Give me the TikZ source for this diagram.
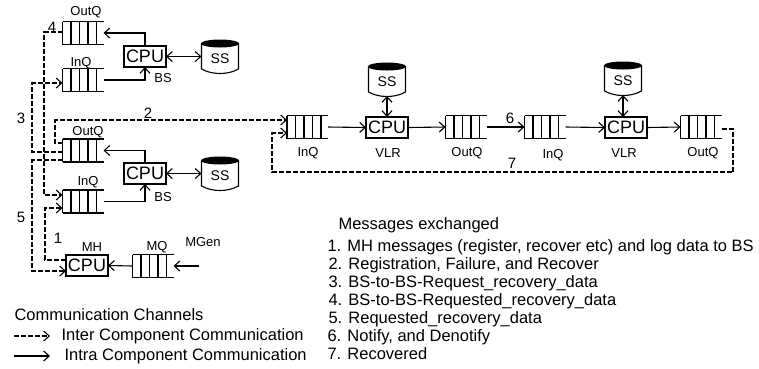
\documentclass[tikz,border=0pt]{standalone}
\usepackage{fontspec}
\setmainfont{Liberation Sans}
\usetikzlibrary{arrows.meta,calc}
\newcommand\fsz[1]{\fontsize{#1}{#1}\selectfont}
\newcommand\drawqueue[1]{%
  \draw (#1.north west) -- (#1.north east) (#1.south west) -- (#1.south east);
  \foreach \k in {0,1,2,3,4} {\draw ([xshift=\k*8.5pt]#1.north west) -- ([xshift=\k*8.5pt]#1.south west);}
}
\newcommand\drawss[1]{%
  \draw ([shift={(-18.5pt,15.5pt)}]#1.center) -- ([shift={(-18.5pt,-10pt)}]#1.center)
     .. controls ([shift={(-8pt,-16pt)}]#1.center) and ([shift={(8pt,-16pt)}]#1.center) ..
     ([shift={(18.5pt,-10pt)}]#1.center) -- ([shift={(18.5pt,15.5pt)}]#1.center);
  \fill ([shift={(0pt,15.5pt)}]#1.center) ellipse [x radius=19pt, y radius=4pt];
}
\begin{document}
\begin{tikzpicture}[x=1pt,y=-1pt,line width=1.1pt,
  >={Straight Barb[length=5.5pt,width=10pt,line width=1.1pt]},
  inter/.style={dash pattern=on 5pt off 2pt,->},
  intra/.style={->},
  qnode/.style={minimum width=41pt,minimum height=23pt,inner sep=0pt,outer sep=0pt},
  cpu/.style={draw,minimum width=42pt,minimum height=21pt,inner sep=0pt,outer sep=0pt,font=\fsz{18}},
  ssnode/.style={minimum width=37pt,minimum height=28pt,inner sep=0pt,outer sep=0pt,font=\fsz{14}},
  lbl/.style={font=\fsz{13},inner sep=0pt},
  num/.style={font=\fsz{15},inner sep=0pt},
  txt/.style={font=\fsz{16.5},inner sep=0pt,anchor=base west},
]
\useasboundingbox (0,0) rectangle (759,368);

% ---- BS 1 (top)
\node[qnode] (out1) at (83,33) {};
\drawqueue{out1}
\node[lbl] (lout1) at (86,12) {OutQ};
\node[qnode] (in1) at (83,80) {};
\drawqueue{in1}
\node[lbl] (lin1) at (81,63) {InQ};
\node[cpu] (cpu1) at (145,56.5) {CPU};
\node[ssnode] (ss1) at (220,59) {SS};
\drawss{ss1}
\node[lbl] (lbs1) at (163,78) {BS};
\draw[intra] (cpu1.north) |- (out1.east);
\draw[intra] (in1.east) -| (cpu1.south);
\draw[<->] (cpu1.east) -- (cpu1.east -| ss1.west);

% ---- BS 2 (middle)
\node[qnode] (out2) at (83,150.5) {};
\drawqueue{out2}
\node[lbl] (lout2) at (88,132) {OutQ};
\node[cpu] (cpu2) at (145,173.5) {CPU};
\node[ssnode] (ss2) at (220,176) {SS};
\drawss{ss2}
\node[lbl] (lbs2) at (163,197) {BS};
\node[qnode] (in2) at (83,201.5) {};
\drawqueue{in2}
\node[lbl] (lin2) at (88,182) {InQ};
\draw[intra] (cpu2.north) |- (out2.east);
\draw[intra] (in2.east) -| (cpu2.south);
\draw[<->] (cpu2.east) -- (cpu2.east -| ss2.west);

% ---- MH
\node[cpu] (mh) at (87,265.5) {CPU};
\node[lbl] (lmh) at (92,247) {MH};
\node[qnode] (mq) at (153,266) {};
\drawqueue{mq}
\node[lbl] (lmq) at (157,247) {MQ};
\node[lbl] (lmgen) at (203,242) {MGen};
\coordinate (mgen) at (199,266);
\draw[intra] (mq.west) -- (mh.east);
\draw[intra] (mgen) -- (mq.east);

% ---- VLR 1
\node[qnode] (vin1) at (307.5,127) {};
\drawqueue{vin1}
\node[lbl] (lvin1) at (308,153) {InQ};
\node[cpu] (vcpu1) at (387,127.5) {CPU};
\node[lbl] (lvlr1) at (388,153) {VLR};
\node[ssnode] (vss1) at (387,82) {SS};
\drawss{vss1}
\node[qnode] (vout1) at (466,127) {};
\drawqueue{vout1}
\node[lbl] (lvout1) at (467,153) {OutQ};
\draw[intra] (vin1.east) -- (vcpu1.west);
\draw[intra] (vcpu1.east) -- (vout1.west);
\draw[<->] (vcpu1.north) -- (vcpu1.north |- vss1.south);

% ---- VLR 2
\node[qnode] (vin2) at (545,127) {};
\drawqueue{vin2}
\node[lbl] (lvin2) at (553,155) {InQ};
\node[cpu] (vcpu2) at (626,127.5) {CPU};
\node[lbl] (lvlr2) at (624,153) {VLR};
\node[ssnode] (vss2) at (623,81) {SS};
\drawss{vss2}
\node[qnode] (vout2) at (701,127) {};
\drawqueue{vout2}
\node[lbl] (lvout2) at (703,153) {OutQ};
\draw[intra] (vin2.east) -- (vcpu2.west);
\draw[intra] (vcpu2.east) -- (vout2.west);
\draw[<->] (vcpu2.north -| vss2.south) -- (vss2.south);
\draw[intra] (vout1.east) -- (vin2.west);
\node[num] (n6) at (510,118) {6};

% ---- inter component channels
\coordinate (c2) at (55,120);
\draw[inter] ([yshift=7.5pt]out2.west) -| (c2) -- ([yshift=7pt]vin1.west);
\node[num] (n2) at (148,113) {2};
\coordinate (c3) at (32,83);
\draw[inter] ([yshift=-1.5pt]out2.west) -| (c3) -- ([yshift=-3pt]in1.west);
\node[num] (n3) at (21,118) {3};
\coordinate (c4) at (44,195);
\draw[inter] ([yshift=1pt]out1.west) -| (c4) -- ([yshift=6.5pt]in2.west);
\node[num] (n4) at (52,27) {4};
\coordinate (c1) at (45,208);
\draw[inter] ([yshift=5.5pt]mh.west) -| (c1) -- ([yshift=-6.5pt]in2.west);
\node[num] (n1) at (58,238) {1};
\coordinate (c5) at (32,271);
\draw[inter] ([yshift=-9.5pt]out2.west) -| (c5) -- ([yshift=-5.5pt]mh.west);
\node[num] (n5) at (21,217) {5};
\coordinate (c7a) at (733,172);
\coordinate (c7b) at (272,133);
\draw[inter] ([yshift=-2pt]vout2.east) -| (c7a) -| (c7b) -- ([yshift=-6pt]vin1.west);
\node[num] (n7) at (512,163) {7};

% ---- legend
\node[txt] (lg0) at (14,320) {Communication Channels};
\coordinate (la1) at (14,336); \coordinate (la2) at (50,336);
\draw[inter] (la1) -- (la2);
\node[txt] (lg1) at (61,340) {Inter Component Communication};
\coordinate (lb1) at (14,356); \coordinate (lb2) at (50,356);
\draw[intra] (lb1) -- (lb2);
\node[txt] (lg2) at (64,360) {Intra Component Communication};

% ---- messages
\node[txt] (m0) at (338,229.5) {Messages exchanged};
\node[txt] (m1) at (327,251) {1. MH messages (register, recover etc) and log data to BS};
\node[txt] (m2) at (328,269) {2. Registration, Failure, and Recover};
\node[txt] (m3) at (328,287) {3. BS-to-BS-Request\_recovery\_data};
\node[txt] (m4) at (328,305) {4. BS-to-BS-Requested\_recovery\_data};
\node[txt] (m5) at (328,323) {5. Requested\_recovery\_data};
\node[txt] (m6) at (327,341) {6. Notify, and Denotify};
\node[txt] (m7) at (327,359) {7. Recovered};
\end{tikzpicture}
\end{document}
